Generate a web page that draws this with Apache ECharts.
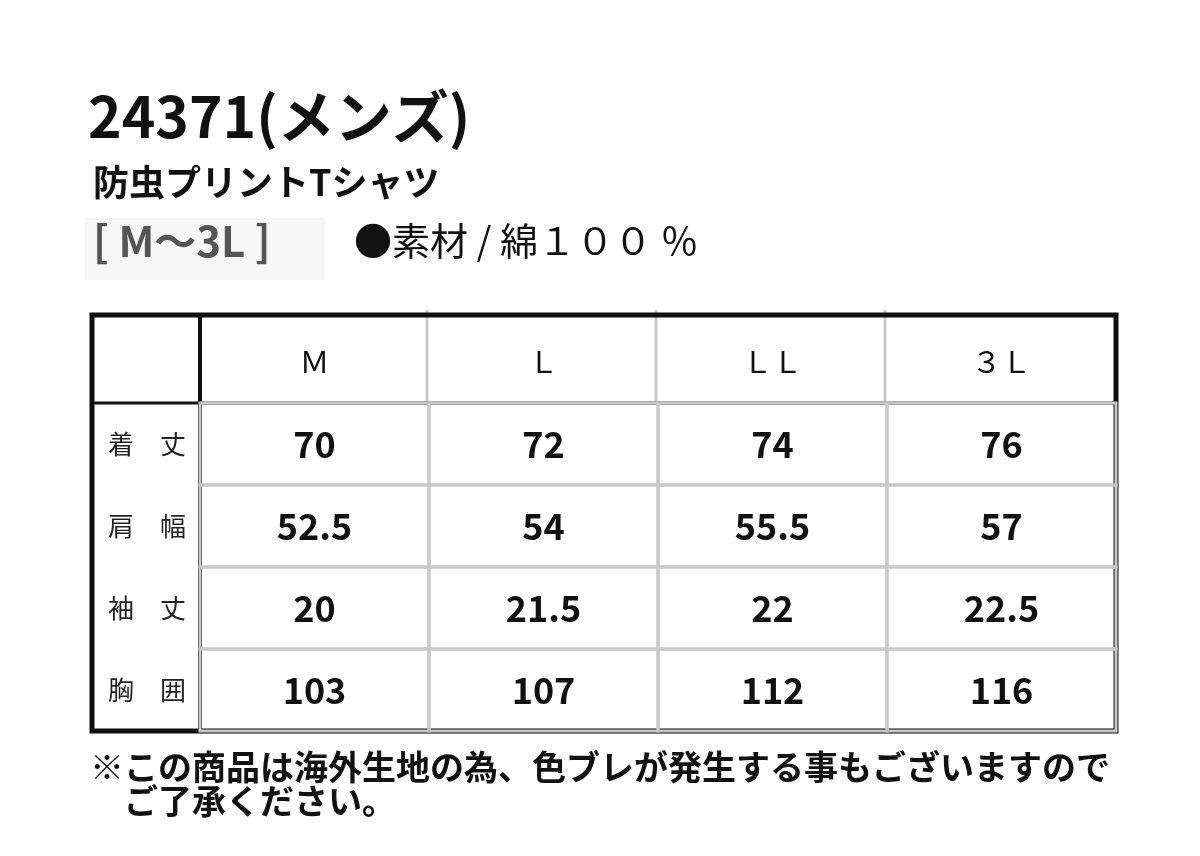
<!DOCTYPE html>
<html><head><meta charset="utf-8">
<script src="https://cdn.jsdelivr.net/npm/echarts@6/dist/echarts.min.js"></script>
<style>html,body{margin:0;background:#fff}#c{width:1200px;height:856px}</style>
</head><body><div id="c"></div>
<script>
const sizes = ['M', 'L', 'LL', '3L'];
const sizeLabels = ['Ｍ', 'Ｌ', 'ＬＬ', '３Ｌ'];
const rows = ['着　丈', '肩　幅', '袖　丈', '胸　囲'];
const lengthVals = ['70', '72', '74', '76'];
const shoulderVals = ['52.5', '54', '55.5', '57'];
const sleeveVals = ['20', '21.5', '22', '22.5'];
const chestVals = ['103', '107', '112', '116'];
const title = '24371(メンズ)';
const subtitle = '防虫プリントTシャツ';
const sizeRange = '[ M～3L ]';
const material = '●素材 / 綿１００ ％';
const note1 = '※この商品は海外生地の為、色ブレが発生する事もございますので';
const note2 = 'ご了承ください。';

const table = [lengthVals, shoulderVals, sleeveVals, chestVals];
const data = [];
table.forEach((r, ri) => r.forEach((v, ci) => data.push([ci, ri, v])));
const F = '"Noto Sans CJK JP", sans-serif';
const chart = echarts.init(document.getElementById('c'));
chart.setOption({
  backgroundColor: '#fff',
  animation: false,
  grid: { left: 200, right: 84, top: 403, bottom: 125 },
  xAxis: { type: 'category', data: sizes, position: 'top',
    axisLine: { show: false }, axisTick: { show: false },
    axisLabel: { margin: 26, fontSize: 30, color: '#111', fontFamily: F,
      formatter: (v, i) => sizeLabels[i] } },
  yAxis: { type: 'category', data: rows, inverse: true,
    axisLine: { show: false }, axisTick: { show: false },
    axisLabel: { margin: 14, fontSize: 26, color: '#222', fontFamily: F, align: 'right' } },
  series: [{
    type: 'custom', data: data,
    renderItem: (params, api) => {
      const c = api.coord([api.value(0), api.value(1)]);
      const s = api.size([1, 1]);
      return { type: 'group', children: [
        { type: 'rect', shape: { x: c[0] - s[0] / 2, y: c[1] - s[1] / 2, width: s[0], height: s[1] },
          style: { fill: 'none', stroke: '#c8c8c8', lineWidth: 3 } },
        { type: 'text', style: { x: c[0], y: c[1], text: api.value(2), align: 'center', verticalAlign: 'middle',
          fontSize: 36, fontWeight: 'bold', fill: '#111', fontFamily: F } }
      ]};
    }
  }],
  graphic: [
    { type: 'line', shape: { x1: 427, y1: 310, x2: 427, y2: 403 }, style: { stroke: '#c8c8c8', lineWidth: 3 } },
    { type: 'line', shape: { x1: 656, y1: 310, x2: 656, y2: 403 }, style: { stroke: '#c8c8c8', lineWidth: 3 } },
    { type: 'line', shape: { x1: 885, y1: 310, x2: 885, y2: 403 }, style: { stroke: '#c8c8c8', lineWidth: 3 } },
    { type: 'line', shape: { x1: 200, y1: 315, x2: 200, y2: 731 }, style: { stroke: '#111', lineWidth: 4 } },
    { type: 'line', shape: { x1: 92, y1: 403, x2: 1116, y2: 403 }, style: { stroke: '#111', lineWidth: 3 } },
    { type: 'rect', shape: { x: 92, y: 315, width: 1024, height: 416 }, style: { fill: 'none', stroke: '#111', lineWidth: 5 } },
    { type: 'text', left: 88, top: 88, style: { text: title, fontSize: 57, fontWeight: 'bold', fill: '#111', fontFamily: F } },
    { type: 'text', left: 93, top: 164, style: { text: subtitle, fontSize: 36, fontWeight: 'bold', fill: '#111', fontFamily: F } },
    { type: 'rect', shape: { x: 85, y: 218, width: 240, height: 62 }, style: { fill: '#f6f6f6' } },
    { type: 'text', left: 93, top: 220, style: { text: sizeRange, fontSize: 42, fontWeight: 'bold', fill: '#555', fontFamily: F } },
    { type: 'text', left: 354, top: 222, style: { text: material, fontSize: 38, fill: '#111', fontFamily: F } },
    { type: 'text', left: 90, top: 750, style: { text: note1, fontSize: 34, fontWeight: 'bold', fill: '#111', fontFamily: F } },
    { type: 'text', left: 124, top: 784, style: { text: note2, fontSize: 34, fontWeight: 'bold', fill: '#111', fontFamily: F } }
  ]
});
</script></body></html>
